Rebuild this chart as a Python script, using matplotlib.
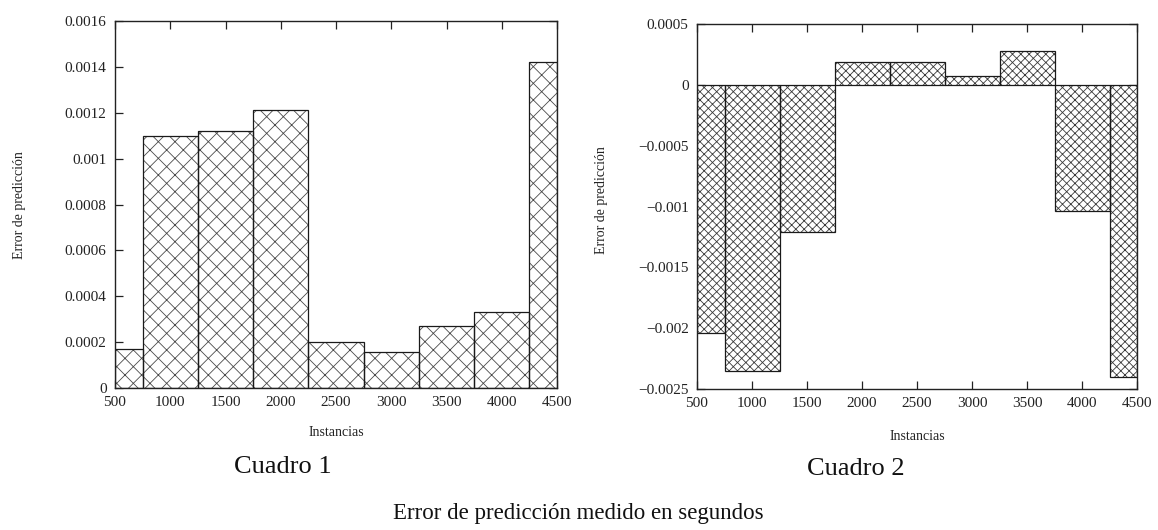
import matplotlib
matplotlib.use("Agg")
import matplotlib.pyplot as plt
from matplotlib.ticker import FuncFormatter

# ---- data ----
bin_edges = [500, 750, 1250, 1750, 2250, 2750, 3250, 3750, 4250, 4500]
error_cuadro1 = [0.00017, 0.00110, 0.00112, 0.00121, 0.00020, 0.000155, 0.00027, 0.00033, 0.00142]
error_cuadro2 = [-0.00204, -0.00235, -0.00121, 0.000185, 0.000185, 0.00007, 0.000275, -0.00104, -0.00240]
x_ticks = [500, 1000, 1500, 2000, 2500, 3000, 3500, 4000, 4500]
y_ticks1 = [0, 0.0002, 0.0004, 0.0006, 0.0008, 0.001, 0.0012, 0.0014, 0.0016]
y_ticks2 = [-0.0025, -0.002, -0.0015, -0.001, -0.0005, 0, 0.0005]

plt.rcParams['font.family'] = ['Liberation Serif', 'DejaVu Serif']
plt.rcParams['hatch.linewidth'] = 0.6

W, H = 1158, 530
fig = plt.figure(figsize=(W / 100, H / 100), dpi=100)

def fmt(v, pos):
    s = '%g' % v
    return s.replace('-', '\u2212')

def make_panel(rect, values, yticks, ylim, hatch, hatch_color):
    ax = fig.add_axes(rect)
    lefts = bin_edges[:-1]
    widths = [b - a for a, b in zip(bin_edges[:-1], bin_edges[1:])]
    # hatch layer (grey hatch lines)
    ax.bar(lefts, values, width=widths, align='edge', color='white',
           edgecolor=hatch_color, linewidth=0, hatch=hatch, zorder=2)
    # outline layer (dark edges)
    ax.bar(lefts, values, width=widths, align='edge', fill=False,
           edgecolor='#1a1a1a', linewidth=0.9, zorder=3)
    ax.set_xlim(bin_edges[0], bin_edges[-1])
    ax.set_ylim(*ylim)
    ax.set_xticks(x_ticks)
    ax.set_yticks(yticks)
    ax.yaxis.set_major_formatter(FuncFormatter(fmt))
    ax.tick_params(direction='in', length=6, width=0.9, top=True, right=True,
                   labelsize=11, pad=6, colors='#222222')
    for sp in ax.spines.values():
        sp.set_linewidth(1.0)
        sp.set_color('#222222')
        sp.set_zorder(4)
    return ax

ax1 = make_panel([115 / W, 1 - 388 / H, 442 / W, 367 / H], error_cuadro1,
                 y_ticks1, (0, 0.0016), 'xx', '#4a4a4a')
ax2 = make_panel([697 / W, 1 - 389 / H, 440 / W, 365 / H], error_cuadro2,
                 y_ticks2, (-0.0025, 0.0005), 'xxxx', '#3a3a3a')

# axis labels
fig.text(20 / W, 1 - 205 / H, 'Error de predicción', rotation=90,
         ha='center', va='center', fontsize=10, color='#222222')
fig.text(601 / W, 1 - 200 / H, 'Error de predicción', rotation=90,
         ha='center', va='center', fontsize=10, color='#222222')
fig.text(336 / W, 1 - 433 / H, 'Instancias', ha='center', va='center',
         fontsize=10, color='#222222')
fig.text(917 / W, 1 - 437 / H, 'Instancias', ha='center', va='center',
         fontsize=10, color='#222222')

# captions
fig.text(283 / W, 1 - 467 / H, 'Cuadro 1', ha='center', va='center',
         fontsize=19, color='#111111')
fig.text(856 / W, 1 - 469 / H, 'Cuadro 2', ha='center', va='center',
         fontsize=19, color='#111111')
fig.text(578 / W, 1 - 514 / H, 'Error de predicción medido en segundos',
         ha='center', va='center', fontsize=16.5, color='#111111')

fig.savefig('out.png', dpi=100, facecolor='white')
